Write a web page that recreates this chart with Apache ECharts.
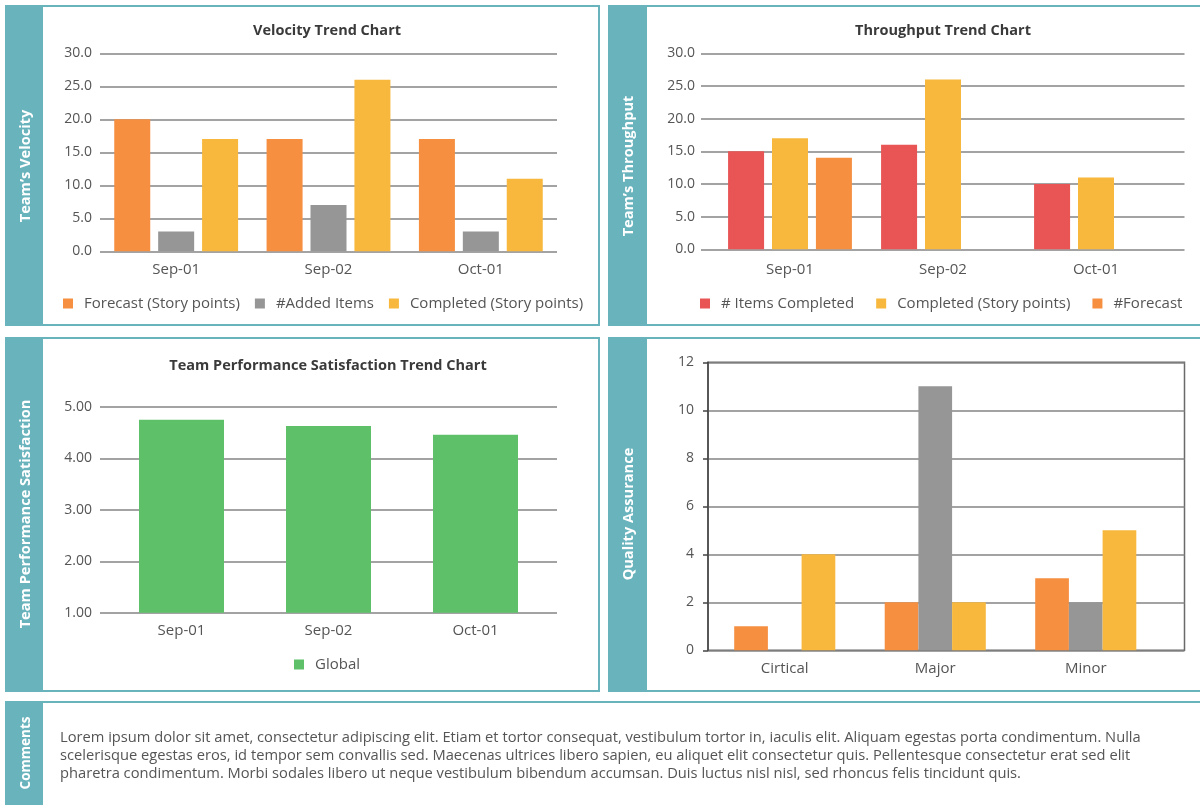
<!DOCTYPE html>
<html>
<head>
<meta charset="utf-8">
<title>Team Dashboard</title>
<script src="https://cdn.jsdelivr.net/npm/echarts@6/dist/echarts.min.js"></script>
<style>
  html, body { margin: 0; padding: 0; background: #fff; overflow: hidden; width: 1200px; height: 805px; }
  .panel { position: absolute; box-sizing: border-box; border: 2px solid #69b3bd; background: #fff; }
  .side { position: absolute; background: #69b3bd; }
  #chart { position: absolute; left: 0; top: 0; width: 1200px; height: 805px; }
</style>
</head>
<body>
<!-- dashboard frames -->
<div class="panel" style="left:5px;top:5px;width:595px;height:321px"></div>
<div class="side"  style="left:5px;top:5px;width:38px;height:321px"></div>
<div class="panel" style="left:608px;top:5px;width:620px;height:321px"></div>
<div class="side"  style="left:608px;top:5px;width:39px;height:321px"></div>
<div class="panel" style="left:5px;top:337px;width:595px;height:355px"></div>
<div class="side"  style="left:5px;top:337px;width:38px;height:355px"></div>
<div class="panel" style="left:608px;top:337px;width:620px;height:355px"></div>
<div class="side"  style="left:608px;top:337px;width:39px;height:355px"></div>
<div class="panel" style="left:5px;top:701px;width:1230px;height:120px"></div>
<div class="side"  style="left:5px;top:701px;width:38px;height:120px"></div>
<div id="chart"></div>
<script>
// ---- data ----
const sprints = ['Sep-01', 'Sep-02', 'Oct-01'];

const velocityForecast  = [20, 17, 17];
const velocityAdded     = [3, 7, 3];
const velocityCompleted = [17, 26, 11];

const throughputItems     = [15, 16, 10];
const throughputCompleted = [17, 26, 11];
const throughputForecast  = [14, null, null];

const satisfactionGlobal = [4.75, 4.63, 4.46];

const severities = ['Cirtical', 'Major', 'Minor'];
const qaOrange = [1, 2, 3];
const qaGray   = [0, 11, 2];
const qaYellow = [4, 2, 5];

const velocityNames   = ['Forecast (Story points)', '#Added Items', 'Completed (Story points)'];
const throughputNames = ['# Items Completed', 'Completed (Story points)', '#Forecast'];

const sideLabels = ['Team\u2019s Velocity', 'Team\u2019s Throughput', 'Team Performance Satisfaction', 'Quality Assurance', 'Comments'];
const chartTitles = ['Velocity Trend Chart', 'Throughput Trend Chart', 'Team Performance Satisfaction Trend Chart'];

const commentLines = [
  'Lorem ipsum dolor sit amet, consectetur adipiscing elit. Etiam et tortor consequat, vestibulum tortor in, iaculis elit. Aliquam egestas porta condimentum. Nulla',
  'scelerisque egestas eros, id tempor sem convallis sed. Maecenas ultrices libero sapien, eu aliquet elit consectetur quis. Pellentesque consectetur erat sed elit',
  'pharetra condimentum. Morbi sodales libero ut neque vestibulum bibendum accumsan. Duis luctus nisl nisl, sed rhoncus felis tincidunt quis.'
];

// ---- styling ----
const FONT = '"Open Sans", Lato, sans-serif';
const COL = {
  orange: '#f68f40', gray: '#969696', yellow: '#f7b83d',
  red: '#e95454', green: '#5ec16a', text: '#555555', title: '#3a3a3a'
};
const gridLine = { show: true, lineStyle: { color: '#858585', width: 1.5 } };

function catAxis(grid, data, margin) {
  return {
    type: 'category', gridIndex: grid, data: data,
    axisLine: { show: false }, axisTick: { show: false },
    axisLabel: { fontFamily: FONT, fontSize: 15, color: COL.text, margin: margin }
  };
}
function hiddenValueX(grid) {
  return { type: 'value', gridIndex: grid, min: 0, max: 1, show: false };
}
function hiddenValueY(grid, min, max) {
  return { type: 'value', gridIndex: grid, min: min, max: max, show: false };
}
function valueY(grid, min, max, step, digits, margin) {
  return {
    type: 'value', gridIndex: grid, min: min, max: max, interval: step,
    axisLine: { show: false }, axisTick: { show: false },
    axisLabel: {
      fontFamily: FONT, fontSize: 14, color: COL.text, margin: margin,
      formatter: v => v.toFixed(digits)
    },
    splitLine: gridLine
  };
}
function bar(name, data, color, xi, extra) {
  return Object.assign({
    type: 'bar', name: name, data: data, xAxisIndex: xi, yAxisIndex: xi,
    itemStyle: { color: color }, emphasis: { disabled: true }, clip: true
  }, extra);
}
function legend(names, left, top, gap) {
  return {
    data: names, left: left, top: top, padding: 0, itemGap: gap,
    itemWidth: 10, itemHeight: 10, icon: 'rect', selectedMode: false,
    textStyle: { fontFamily: FONT, fontSize: 15, color: COL.text, padding: [0, 0, 0, 6] }
  };
}

const graphics = [];
// chart headings
[[chartTitles[0], 327, 31], [chartTitles[1], 943, 31], [chartTitles[2], 328, 366]].forEach(([t, x, y]) => {
  graphics.push({
    type: 'text', x: x, y: y, z: 10,
    style: { text: t, fill: COL.title, font: 'bold 14.5px ' + FONT, textAlign: 'center', textVerticalAlign: 'middle' }
  });
});
// vertical side labels
[[0, 26, 166], [1, 629, 166], [2, 26, 514], [3, 629, 514], [4, 26, 753]].forEach(([i, x, y]) => {
  graphics.push({
    type: 'text', x: x, y: y, rotation: Math.PI / 2, z: 10,
    style: {
      text: sideLabels[i], fill: '#ffffff',
      font: (i === 4 ? 'bold 13.5px ' : 'bold 14.6px ') + FONT,
      textAlign: 'center', textVerticalAlign: 'middle'
    }
  });
});
// comment text
commentLines.forEach((line, k) => {
  graphics.push({
    type: 'text', x: 60, y: 738 + k * 18, z: 10,
    style: { text: line, fill: COL.text, font: '14.7px ' + FONT, textVerticalAlign: 'middle' }
  });
});

const option = {
  animation: false,
  graphic: { elements: graphics },
  grid: [
    { left: 100,   top: 53.3,  width: 457,   height: 198 },   // 0 velocity
    { left: 701,   top: 53.3,  width: 483.5, height: 196 },   // 1 throughput rules
    { left: 713.5, top: 53.3,  width: 459,   height: 196 },   // 2 throughput bars
    { left: 100,   top: 407,   width: 457,   height: 205.7 }, // 3 satisfaction rules
    { left: 108,   top: 407,   width: 441,   height: 205.7 }, // 4 satisfaction bars
    { left: 708,   top: 362.3, width: 476.5, height: 288, show: true,
      borderColor: '#6a6a6a', borderWidth: 1.5, backgroundColor: 'transparent' }, // 5 QA box
    { left: 709.5, top: 362.3, width: 451.5, height: 288 }    // 6 QA bars
  ],
  xAxis: [
    catAxis(0, sprints, 11),
    hiddenValueX(1),
    catAxis(2, sprints, 13),
    hiddenValueX(3),
    catAxis(4, sprints, 11),
    hiddenValueX(5),
    catAxis(6, severities, 11)
  ],
  yAxis: [
    valueY(0, 0, 30, 5, 1, 8),
    valueY(1, 0, 30, 5, 1, 6),
    hiddenValueY(2, 0, 30),
    valueY(3, 1, 5, 1, 2, 8),
    hiddenValueY(4, 1, 5),
    Object.assign(valueY(5, 0, 12, 2, 0, 14), {
      axisLine: { show: true, lineStyle: { color: '#444', width: 1.5 } },
      axisTick: { show: true, length: 5, lineStyle: { color: '#444', width: 1.5 } }
    }),
    hiddenValueY(6, 0, 12)
  ],
  legend: [
    legend(velocityNames, 63, 296, 15),
    legend(throughputNames, 700, 296, 22),
    legend(['Global'], 294, 657, 15)
  ],
  series: [
    bar(velocityNames[0], velocityForecast,  COL.orange, 0, { barWidth: 36, barGap: '22%' }),
    bar(velocityNames[1], velocityAdded,     COL.gray,   0, { barWidth: 36, barGap: '22%' }),
    bar(velocityNames[2], velocityCompleted, COL.yellow, 0, { barWidth: 36, barGap: '22%' }),

    bar(throughputNames[0], throughputItems,     COL.red,    2, { barWidth: 36, barGap: '22%' }),
    bar(throughputNames[1], throughputCompleted, COL.yellow, 2, { barWidth: 36, barGap: '22%' }),
    bar(throughputNames[2], throughputForecast,  COL.orange, 2, { barWidth: 36, barGap: '22%' }),

    bar('Global', satisfactionGlobal, COL.green, 4, { barWidth: 85 }),

    bar('qa-orange', qaOrange, COL.orange, 6, { barWidth: 33.7, barGap: 0 }),
    bar('qa-gray',   qaGray,   COL.gray,   6, { barWidth: 33.7, barGap: 0 }),
    bar('qa-yellow', qaYellow, COL.yellow, 6, { barWidth: 33.7, barGap: 0 })
  ]
};

const chart = echarts.init(document.getElementById('chart'), null, { renderer: 'canvas' });
chart.setOption(option);
</script>
</body>
</html>
